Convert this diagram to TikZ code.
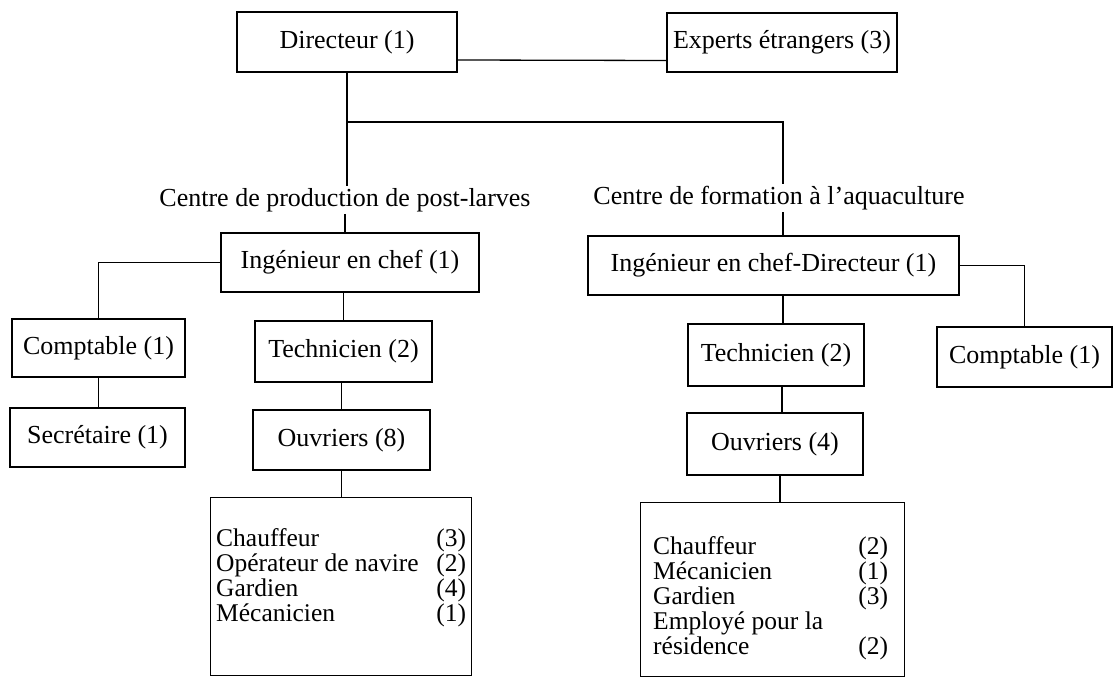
\documentclass[tikz,border=0pt]{standalone}
\usepackage{fontspec}
\setmainfont{Liberation Serif}
\newcommand\lrow[3]{\hbox to #1{#2\hfil #3}}
\newcommand\listfont{\fontsize{25.5}{25}\selectfont\lineskiplimit=-30pt\relax}
\begin{document}
\begin{tikzpicture}[x=1pt,y=-1pt,
  box/.style={draw, line width=1.3pt, inner sep=0pt, font=\fontsize{26}{30}\selectfont},
  lab/.style={inner sep=2pt, font=\fontsize{26}{30}\selectfont},
  listtext/.style={anchor=north west, inner sep=0pt},
  conn/.style={line width=1.3pt}]
\useasboundingbox (0,0) rectangle (1116,682);
% top row
\node[box, minimum width=220pt, minimum height=60pt] (dir) at (347,42) {Directeur (1)};
\node[box, minimum width=230pt, minimum height=59pt] (exp) at (782,42.5) {Experts étrangers (3)};
% centre labels
\node[lab] (labL) at (345,200) {Centre de production de post-larves};
\node[lab] (labR) at (779,198) {Centre de formation à l’aquaculture};
% left centre
\node[box, minimum width=258pt, minimum height=59pt] (ingL) at (350,262.5) {Ingénieur en chef (1)};
\node[box, minimum width=173pt, minimum height=58pt] (compL) at (98.5,348) {Comptable (1)};
\node[box, minimum width=175pt, minimum height=59pt] (secL) at (97.5,437.5) {Secrétaire (1)};
\node[box, minimum width=177pt, minimum height=61pt] (techL) at (343.5,351.5) {Technicien (2)};
\node[box, minimum width=177pt, minimum height=60pt] (ouvL) at (341.5,440) {Ouvriers (8)};
\node[box, anchor=north west, minimum width=261pt, minimum height=178pt] (listL) at (210,497) {};
\node[listtext] (listLt) at ([xshift=6pt,yshift=-31pt]listL.north west)
  {\vbox{\listfont
   \lrow{250pt}{Chauffeur}{(3)}
   \lrow{250pt}{Opérateur de navire}{(2)}
   \lrow{250pt}{Gardien}{(4)}
   \lrow{250pt}{Mécanicien}{(1)}}};
% right centre
\node[box, minimum width=371pt, minimum height=59pt] (ingR) at (773.5,265.5) {Ingénieur en chef-Directeur (1)};
\node[box, minimum width=176pt, minimum height=62pt] (techR) at (776,355) {Technicien (2)};
\node[box, minimum width=175pt, minimum height=60pt] (compR) at (1024.5,357) {Comptable (1)};
\node[box, minimum width=176pt, minimum height=62pt] (ouvR) at (775,444) {Ouvriers (4)};
\node[box, anchor=north west, minimum width=264pt, minimum height=174pt] (listR) at (640,502) {};
\node[listtext] (listRt) at ([xshift=13pt,yshift=-34pt]listR.north west)
  {\vbox{\listfont
   \lrow{235pt}{Chauffeur}{(2)}
   \lrow{235pt}{Mécanicien}{(1)}
   \lrow{235pt}{Gardien}{(3)}
   \lrow{235pt}{Employé pour la}{}
   \lrow{235pt}{résidence}{(2)}}};
% connectors
\coordinate (jn) at (783,122);
\draw[conn] ([yshift=-18pt]dir.east) -- ([yshift=-18pt]exp.west);
\draw[conn] (dir.south) -- (dir.south |- labL.north);
\draw[conn] (dir.south |- jn) -- (jn) -- (jn |- labR.north);
\draw[conn] (labL.south) -- (labL.south |- ingL.north);
\draw[conn] (jn |- labR.south) -- (jn |- ingR.north);
\draw[conn] (ingL.west) -| (compL.north);
\draw[conn] (compL.south) -- (compL.south |- secL.north);
\draw[conn] (techL.north |- ingL.south) -- (techL.north);
\draw[conn] (ouvL.north |- techL.south) -- (ouvL.north);
\draw[conn] (ouvL.south) -- (ouvL.south |- listL.north);
\draw[conn] (ingR.east) -| (compR.north);
\draw[conn] (jn |- ingR.south) -- (jn |- techR.north);
\draw[conn] ([xshift=-1pt]jn |- techR.south) -- ([xshift=-1pt]jn |- ouvR.north);
\draw[conn] ([xshift=-3pt]jn |- ouvR.south) -- ([xshift=-3pt]jn |- listR.north);
\end{tikzpicture}
\end{document}
